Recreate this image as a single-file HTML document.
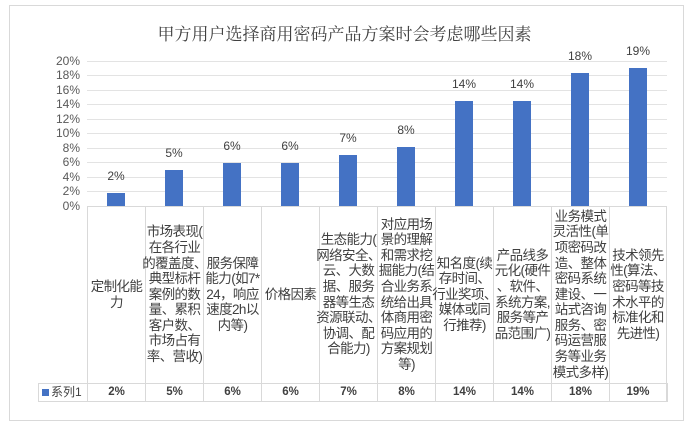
<!DOCTYPE html>
<html><head><meta charset="utf-8"><style>
body{margin:0;background:#fff;width:689px;height:425px;overflow:hidden;font-family:"Liberation Sans","Noto Sans CJK SC",sans-serif;}
.frame{position:absolute;left:9px;top:5px;width:675px;height:416px;border:1px solid #d9d9d9;box-sizing:border-box;}
.title{position:absolute;left:0;width:689px;top:20px;text-align:center;font-family:"Liberation Serif","Noto Serif CJK SC",serif;font-size:17px;color:#404040;}
.yl{position:absolute;left:40px;width:40px;text-align:right;font-size:12px;color:#595959;}
.grid{position:absolute;left:87px;width:580px;height:1px;background:#e3e3e3;}
.bar{position:absolute;width:18px;background:#4472c4;}
.val{position:absolute;width:58px;text-align:center;font-size:12px;color:#404040;}
.cell{position:absolute;top:206px;width:58px;height:177px;border-left:1px solid #d9d9d9;box-sizing:border-box;display:flex;align-items:center;justify-content:center;text-align:center;font-size:13.5px;line-height:15.6px;color:#404040;white-space:nowrap;letter-spacing:-0.6px;}
.dc{position:absolute;top:383px;width:58px;height:19px;border-left:1px solid #d9d9d9;box-sizing:border-box;text-align:center;font-size:11.5px;line-height:19px;color:#404040;font-weight:bold;}
</style></head><body>
<div class="frame"></div>
<div class="title">甲方用户选择商用密码产品方案时会考虑哪些因素</div>
<div class="yl" style="top:54px">20%</div>
<div class="yl" style="top:68px">18%</div>
<div class="yl" style="top:83px">16%</div>
<div class="yl" style="top:97px">14%</div>
<div class="yl" style="top:112px">12%</div>
<div class="yl" style="top:126px">10%</div>
<div class="yl" style="top:141px">8%</div>
<div class="yl" style="top:155px">6%</div>
<div class="yl" style="top:170px">4%</div>
<div class="yl" style="top:184px">2%</div>
<div class="yl" style="top:199px">0%</div>
<div class="grid" style="top:61px"></div><div class="grid" style="top:75px"></div><div class="grid" style="top:90px"></div><div class="grid" style="top:104px"></div><div class="grid" style="top:119px"></div><div class="grid" style="top:133px"></div><div class="grid" style="top:148px"></div><div class="grid" style="top:162px"></div><div class="grid" style="top:177px"></div><div class="grid" style="top:191px"></div>
<div class="grid" style="top:206px;background:#d9d9d9"></div>
<div class="bar" style="left:107px;top:193px;height:13px"></div>
<div class="bar" style="left:165px;top:170px;height:36px"></div>
<div class="bar" style="left:223px;top:163px;height:43px"></div>
<div class="bar" style="left:281px;top:163px;height:43px"></div>
<div class="bar" style="left:339px;top:155px;height:51px"></div>
<div class="bar" style="left:397px;top:147px;height:59px"></div>
<div class="bar" style="left:455px;top:101px;height:105px"></div>
<div class="bar" style="left:513px;top:101px;height:105px"></div>
<div class="bar" style="left:571px;top:73px;height:133px"></div>
<div class="bar" style="left:629px;top:68px;height:138px"></div>
<div class="val" style="left:87px;top:169px">2%</div>
<div class="val" style="left:145px;top:146px">5%</div>
<div class="val" style="left:203px;top:139px">6%</div>
<div class="val" style="left:261px;top:139px">6%</div>
<div class="val" style="left:319px;top:131px">7%</div>
<div class="val" style="left:377px;top:123px">8%</div>
<div class="val" style="left:435px;top:77px">14%</div>
<div class="val" style="left:493px;top:77px">14%</div>
<div class="val" style="left:551px;top:49px">18%</div>
<div class="val" style="left:609px;top:44px">19%</div>
<div class="cell" style="left:87px"><div>定制化能<br>力</div></div>
<div class="cell" style="left:145px"><div>市场表现(<br>在各行业<br>的覆盖度、<br>典型标杆<br>案例的数<br>量、累积<br>客户数、<br>市场占有<br>率、营收)</div></div>
<div class="cell" style="left:203px"><div>服务保障<br>能力(如7*<br>24，响应<br>速度2h以<br>内等)</div></div>
<div class="cell" style="left:261px"><div>价格因素</div></div>
<div class="cell" style="left:319px"><div>生态能力(<br>网络安全、<br>云、大数<br>据、服务<br>器等生态<br>资源联动、<br>协调、配<br>合能力)</div></div>
<div class="cell" style="left:377px"><div>对应用场<br>景的理解<br>和需求挖<br>掘能力(结<br>合业务系<br>统给出具<br>体商用密<br>码应用的<br>方案规划<br>等)</div></div>
<div class="cell" style="left:435px"><div>知名度(续<br>存时间、<br>行业奖项、<br>媒体或同<br>行推荐)</div></div>
<div class="cell" style="left:493px"><div>产品线多<br>元化(硬件<br>、软件、<br>系统方案,<br>服务等产<br>品范围广)</div></div>
<div class="cell" style="left:551px"><div>业务模式<br>灵活性(单<br>项密码改<br>造、整体<br>密码系统<br>建设、一<br>站式咨询<br>服务、密<br>码运营服<br>务等业务<br>模式多样)</div></div>
<div class="cell" style="left:609px;border-right:1px solid #d9d9d9"><div>技术领先<br>性(算法、<br>密码等技<br>术水平的<br>标准化和<br>先进性)</div></div>
<div style="position:absolute;left:38px;top:383px;width:630px;height:19px;border:1px solid #d9d9d9;box-sizing:border-box"></div>
<div style="position:absolute;left:42px;top:383px;line-height:19px;font-size:12px;color:#404040"><span style="display:inline-block;width:7px;height:7px;background:#4472c4;margin-right:2px"></span>系列1</div>
<div class="dc" style="left:87px">2%</div><div class="dc" style="left:145px">5%</div><div class="dc" style="left:203px">6%</div><div class="dc" style="left:261px">6%</div><div class="dc" style="left:319px">7%</div><div class="dc" style="left:377px">8%</div><div class="dc" style="left:435px">14%</div><div class="dc" style="left:493px">14%</div><div class="dc" style="left:551px">18%</div><div class="dc" style="left:609px;border-right:1px solid #d9d9d9">19%</div>
</body></html>
